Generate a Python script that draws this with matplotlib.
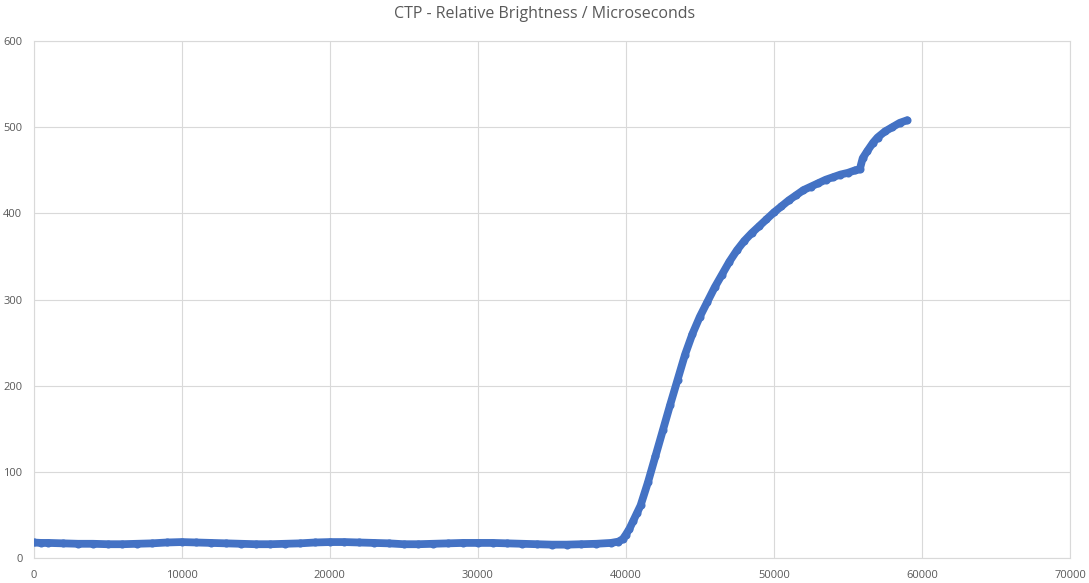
import matplotlib
matplotlib.use("Agg")
import matplotlib.pyplot as plt

title = "CTP - Relative Brightness / Microseconds"

x_flat = [0, 500, 1000, 2000, 3000, 4000, 5000, 6000, 7000, 8000, 9000, 10000,
          11000, 12000, 13000, 14000, 15000, 16000, 17000, 18000, 19000, 20000,
          21000, 22000, 23000, 24000, 25000, 26000, 27000, 28000, 29000, 30000,
          31000, 32000, 33000, 34000, 35000, 36000, 37000, 38000, 39000, 39500, 39800]
y_flat = [18, 17.5, 17.5, 17, 16.5, 16.5, 16, 16, 16.5, 17, 18, 18.5,
          18, 17.5, 17, 16.5, 16, 16, 16.5, 17, 18, 18.5,
          18.5, 18, 17.5, 17, 16, 16, 16.5, 17, 17.5, 17.5,
          17.5, 17, 16.5, 16, 15.5, 15.5, 16, 16.5, 17.5, 19, 22]

x_rise = [40000, 40250, 40500, 40750, 41000, 41500, 42000, 42500, 43000, 43500, 44000, 44500,
          45000, 45500, 46000, 46500, 47000, 47500, 48000, 48500, 49000, 49500,
          50000, 50500, 51000, 51500, 52000, 52500, 53000, 53500, 54000, 54500,
          55000, 55500, 55800, 56000, 56300, 56700, 57000, 57500, 58000, 58500, 59000]
y_rise = [27, 34, 43, 52, 61, 88, 118, 148, 178, 207, 236, 260,
          280, 297, 314, 329, 344, 357, 368, 377, 385, 393,
          401, 408, 415, 421, 427, 431, 435, 439, 442, 445,
          447, 450, 451, 464, 472, 482, 488, 495, 500, 505, 508]

x_ticks = [0, 10000, 20000, 30000, 40000, 50000, 60000, 70000]
y_ticks = [0, 100, 200, 300, 400, 500, 600]

xs = x_flat + x_rise
ys = y_flat + y_rise

plt.rcParams['font.family'] = ['Open Sans', 'DejaVu Sans']
W, H = 1089, 583
fig = plt.figure(figsize=(W / 100, H / 100), dpi=100)
ax = fig.add_axes([33.5 / W, (H - 558) / H, (1070 - 33.5) / W, (558 - 41) / H])

blue = "#4472C4"
ax.plot(xs, ys, color=blue, lw=5.6, solid_capstyle='round', solid_joinstyle='round', zorder=3)
ax.plot(xs, ys, 'o', color=blue, ms=5.8, mew=0, zorder=4)

ax.set_xlim(0, 70000)
ax.set_ylim(0, 600)
ax.set_xticks(x_ticks)
ax.set_yticks(y_ticks)
ax.set_xticklabels([str(v) for v in x_ticks])
ax.set_yticklabels([str(v) for v in y_ticks])
ax.grid(True, color="#d9d9d9", lw=0.8)
ax.set_axisbelow(True)
for s in ax.spines.values():
    s.set_color("#d9d9d9")
    s.set_linewidth(0.8)
ax.tick_params(length=0, colors="#595959", labelsize=8)
ax.tick_params(axis='x', pad=9)
ax.tick_params(axis='y', pad=8)
for lab in ax.get_xticklabels() + ax.get_yticklabels():
    lab.set_color("#595959")

fig.text(0.5, 1 - 14 / H, title, ha='center', va='center', fontsize=11.5, color="#595959")

fig.savefig("out.png", dpi=100)
